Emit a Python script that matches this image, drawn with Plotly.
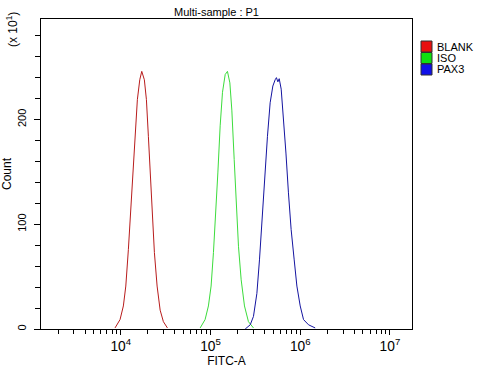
import plotly.graph_objects as go

# FITC-A values (x) and counts (display units, x10^1)
blank_x = [8630, 9820, 10690, 11380, 12160, 12940, 13610, 14450, 15310, 16290, 17140,
           18320, 19320, 20320, 21230, 22340, 23710, 25410, 27480, 29850, 33110]
blank_y = [1, 9, 22, 41, 76, 114, 152, 187, 219, 238, 246,
           238, 219, 184, 152, 111, 73, 41, 18, 7, 1]

iso_x = [76740, 87100, 94840, 101600, 107900, 114800, 120800, 128200, 136100, 145900,
         154500, 164400, 173000, 183700, 193200, 205100, 219800, 239300, 264900, 301300]
iso_y = [1, 9, 22, 41, 73, 111, 149, 194, 226, 243,
         246, 235, 209, 162, 121, 79, 47, 22, 7, 1]

pax3_x = [243800, 277300, 301300, 328900, 351600, 379300, 407400, 431500, 462400, 495500,
          526000, 543300, 563600, 583400, 613800, 651600, 693400, 739600, 792500, 857000,
          918300, 1000000, 1089000, 1239000, 1469000]
pax3_y = [0, 4, 12, 34, 66, 111, 149, 184, 216, 232,
          238, 240, 236, 239, 229, 203, 168, 130, 95, 66,
          41, 22, 9, 4, 1]

series_names = ["BLANK", "ISO", "PAX3"]
line_colors = ["#B81C1C", "#3CDC3C", "#1414A0"]
box_colors = ["#E81010", "#10E010", "#1010E8"]

FONT = "Liberation Sans, Arial, sans-serif"

fig = go.Figure()
for xs, ys, name, col in zip([blank_x, iso_x, pax3_x], [blank_y, iso_y, pax3_y],
                             series_names, line_colors):
    fig.add_trace(go.Scatter(x=xs, y=ys, mode="lines", name=name,
                             line=dict(color=col, width=1), showlegend=False))

fig.update_layout(
    width=496, height=368,
    margin=dict(l=41, r=84, t=19, b=39, autoexpand=False),
    paper_bgcolor="white", plot_bgcolor="white",
    font=dict(family=FONT, size=11, color="black"),
    showlegend=False,
)

fig.update_xaxes(
    type="log", range=[3.111, 7.246], automargin=False,
    dtick=1, exponentformat="power", showexponent="all",
    showline=True, linecolor="black", linewidth=1, mirror=True,
    ticks="outside", ticklen=5, tickcolor="black", showgrid=False, zeroline=False,
    minor=dict(ticks="outside", ticklen=4, tickcolor="black", showgrid=False),
    tickfont=dict(size=11, family=FONT),
    title=dict(text="FITC-A", standoff=4, font=dict(size=12, family=FONT)),
)
fig.update_yaxes(
    range=[0, 296], automargin=False,
    tickvals=[0, 100, 200], tickangle=-90, ticklabelstandoff=4,
    showline=True, linecolor="black", linewidth=1, mirror=True,
    ticks="outside", ticklen=6, tickcolor="black", showgrid=False, zeroline=False,
    minor=dict(dtick=20, ticks="outside", ticklen=5, tickcolor="black", showgrid=False),
    tickfont=dict(size=11, family=FONT),
    title=dict(text="Count", standoff=4, font=dict(size=12, family=FONT)),
)

# Title
fig.add_annotation(text="Multi-sample : P1", xref="paper", yref="paper",
                   x=0.4736, y=1, yanchor="bottom", yshift=-1, showarrow=False,
                   font=dict(size=11, family=FONT))
# Scale multiplier label
fig.add_annotation(text="(x 10<sup>1</sup>)", xref="paper", yref="paper",
                   x=(12 - 41) / 371, xanchor="center", y=1 - (30 - 19) / 310,
                   yanchor="middle", textangle=-90,
                   showarrow=False, font=dict(size=12, family=FONT))

# Legend drawn as boxes + labels
leg_y = [46.5, 58.0, 69.5]  # pixel centres from top
for name, col, yc in zip(series_names, box_colors, leg_y):
    y0 = 1 - (yc - 5.5 - 19) / 310
    y1 = 1 - (yc + 5.5 - 19) / 310
    x0 = (421 - 41) / 371
    x1 = (432 - 41) / 371
    fig.add_shape(type="rect", xref="paper", yref="paper", x0=x0, x1=x1, y0=y1, y1=y0,
                  fillcolor=col, line=dict(color="#303030", width=1))
    fig.add_annotation(text=name, xref="paper", yref="paper",
                       x=(435 - 41) / 371, xanchor="left", y=1 - (yc - 19) / 310,
                       yanchor="middle", showarrow=False,
                       font=dict(size=11, family=FONT))

fig.write_html("out.html", config={"displayModeBar": False},
               post_script="document.body.style.margin='0';")
